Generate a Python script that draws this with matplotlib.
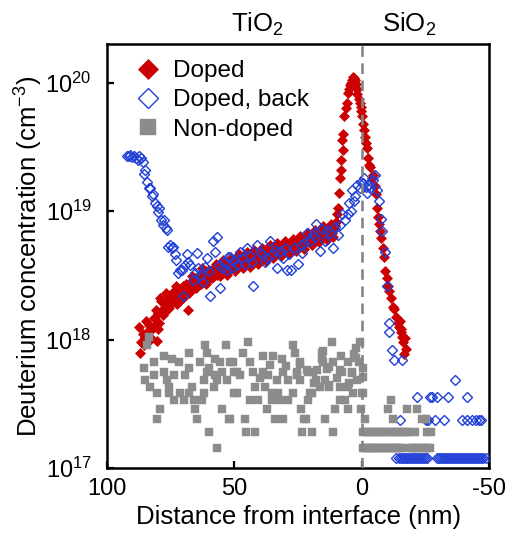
import matplotlib
matplotlib.use("Agg")
import matplotlib.pyplot as plt
import numpy as np

plt.rcParams['font.family'] = ['Liberation Sans', 'DejaVu Sans']
plt.rcParams['mathtext.fontset'] = 'custom'
plt.rcParams['mathtext.rm'] = 'Liberation Sans'
plt.rcParams['mathtext.it'] = 'Liberation Sans:italic'
plt.rcParams['mathtext.default'] = 'regular'

# ---------------- data (y in units of 1e18 for doped, 1e17 for non-doped) ----------------
doped_x = [87.1, 87.5, 86.5, 85.5, 85.0, 84.3, 83.6, 83.0, 82.5, 81.6, 81.0, 80.4, 80.0, 79.6, 79.2,
           78.5, 78.0, 77.3, 76.5, 75.7, 75.0, 74.3, 73.4, 72.6, 72.0, 71.3, 70.7, 70.0, 69.3, 68.3,
           67.5, 66.8, 66.0, 65.3, 64.4, 63.6, 63.0, 62.4, 61.7, 61.0, 60.3, 59.5, 58.9, 58.2, 57.5,
           56.8, 56.0, 55.3, 54.5, 53.8, 53.0, 52.3, 51.5, 50.8, 50.0, 49.3, 48.5, 47.8, 47.0, 46.3,
           45.5, 44.8, 44.0, 43.3, 42.5, 41.8, 41.0, 40.3, 39.5, 38.8, 38.0, 37.3, 36.5, 35.8, 35.0,
           34.3, 33.5, 32.8, 32.0, 31.3, 30.5, 29.8, 29.0, 28.3, 27.5, 26.8, 26.0, 25.3, 24.5, 23.8,
           23.0, 22.3, 21.5, 20.8, 20.0, 19.3, 18.5, 17.8, 17.0, 16.3, 15.5, 14.8, 14.0, 13.3, 12.5,
           11.8, 11.0, 10.5, 10.0, 9.8, 9.5, 9.1, 8.7, 8.3, 8.0, 7.6, 7.4, 7.2, 6.8, 6.4, 6.0, 5.6,
           5.2, 4.8, 4.4, 4.0, 3.6, 3.2, 2.8, 2.4, 2.0, 1.7, 1.3, 0.9, 0.5, 0.2, -0.2, -0.6, -1.0,
           -1.4, -1.8, -2.2, -2.6, -3.0, -3.4, -3.8, -4.2, -5.0, -5.5, -6.1, -6.5, -6.9, -7.3, -7.7,
           -8.2, -8.8, -9.2, -9.7, -10.2, -10.8, -11.5, -12.1, -12.8, -13.5, -14.2, -14.7, -15.0,
           -15.3, -15.5, -15.9, -16.3, -16.7, -17.0, -17.5,
           # second pass through the TiO2 band
           86.0, 84.8, 83.3, 82.0, 80.8, 79.8, 78.8, 77.8, 76.8, 75.5, 74.0, 73.0, 71.8, 70.3, 69.0,
           67.8, 66.5, 65.0, 63.8, 62.7, 61.3, 60.0, 58.6, 57.2, 55.8, 54.3, 52.8, 51.2, 49.7, 48.2,
           46.7, 45.2, 43.7, 42.2, 40.7, 39.2, 37.7, 36.2, 34.7, 33.2, 31.7, 30.2, 28.7, 27.2, 25.7,
           24.2, 22.7, 21.2, 19.7, 18.2, 16.7, 15.2, 13.7, 12.2, 11.4]
doped_y = [0.78, 1.25, 0.95, 0.91, 1.05, 1.15, 1.3, 1.0, 1.2, 1.48, 1.3, 0.98, 1.6, 1.35, 2.1,
           1.7, 1.55, 1.86, 2.0, 2.2, 1.9, 2.3, 2.35, 1.9, 2.5, 2.2, 2.3, 2.6, 2.4, 1.7,
           2.57, 2.8, 2.5, 3.0, 2.9, 3.2, 2.7, 3.3, 3.1, 3.4, 2.9, 3.3, 3.5, 3.1, 3.7,
           3.2, 3.5, 3.8, 3.3, 3.7, 4.0, 3.5, 3.8, 4.1, 3.7, 3.9, 4.2, 3.8, 4.1, 4.4,
           3.9, 4.2, 4.6, 4.1, 4.3, 4.7, 4.2, 4.5, 4.8, 4.3, 4.6, 4.9, 4.5, 4.8, 5.1,
           4.6, 4.9, 5.2, 4.8, 5.1, 5.4, 4.9, 5.2, 5.6, 5.1, 5.4, 5.8, 5.2, 5.6, 6.0,
           5.4, 5.8, 6.3, 5.7, 6.1, 6.6, 6.0, 6.4, 6.9, 6.2, 6.7, 7.2, 6.4, 6.9, 7.4,
           6.8, 7.3, 7.8, 8.2, 9.5, 10.5, 13.8, 18.2, 21.0, 25.0, 35.5, 30.0, 40.0, 55.0, 63.0, 69.0, 83.0,
           90.0, 96.0, 100.0, 105.0, 110.0, 108.0, 104.0, 98.0, 90.0, 81.0, 75.0, 70.0, 65.0, 60.0, 55.0, 48.0, 43.0,
           38.0, 34.0, 31.0, 26.0, 23.0, 22.0, 18.2, 19.0, 15.8, 13.7, 10.5, 9.0, 7.9, 7.0, 6.2,
           5.2, 4.4, 3.4, 3.0, 2.6, 2.4, 2.1, 1.8, 1.72, 1.5, 1.35, 1.26, 1.4,
           1.15, 1.2, 1.05, 0.95, 0.77, 1.02, 0.85,
           1.1, 1.4, 1.05, 1.25, 1.7, 1.2, 2.0, 1.6, 2.3, 1.75, 2.1, 2.6, 2.0, 2.1, 2.7,
           2.3, 3.1, 2.5, 2.8, 3.6, 2.7, 3.5, 3.0, 3.9, 3.1, 4.2, 3.2, 4.3, 3.4, 4.6,
           3.6, 4.8, 3.7, 5.0, 3.9, 5.2, 4.1, 5.4, 4.3, 5.6, 4.5, 5.8, 4.7, 6.1, 4.9,
           6.4, 5.1, 6.7, 5.4, 7.1, 5.7, 7.6, 6.0, 8.0, 6.3]

back_x = [92.3, 91.5, 90.8, 90.0, 89.3, 88.6, 88.0, 87.5, 86.8, 86.0, 85.5, 85.0, 84.3, 83.6, 83.2,
          82.5, 81.8, 81.0, 80.4, 80.0, 79.5, 78.8, 78.2, 77.5, 77.0, 76.5, 76.0, 75.3, 74.5, 74.1,
          73.5, 72.8, 72.0, 71.4, 70.7, 70.2, 69.5, 68.7, 68.3, 67.5, 66.3, 65.5, 64.8, 64.4, 63.5,
          62.4, 61.5, 60.9, 60.0, 59.7, 58.5, 57.7, 56.9, 56.0, 55.8, 55.0, 54.0, 53.0, 52.6, 51.8,
          51.0, 50.0, 49.0, 47.9, 47.0, 46.0, 45.2, 44.0, 43.0, 42.8, 41.3, 40.1, 39.0, 38.0, 37.4,
          36.2, 35.0, 34.0, 33.4, 32.3, 31.0, 30.0, 29.5, 28.5, 27.6, 26.5, 25.2, 24.0, 23.3, 22.5,
          21.7, 20.5, 19.3, 18.5, 17.8, 16.6, 15.5, 14.6, 13.8, 12.5, 11.5, 10.5, 9.5, 8.7, 7.6,
          6.5, 5.5, 4.9, 4.2, 3.7, 3.0, 2.5, 1.7, 0.8, 0.2, -0.5, -1.0, -1.5, -2.2, -2.8, -3.3,
          -4.2, -5.0, -6.1, -6.9, -7.7, -8.1, -8.9, -9.7, -10.5, -10.8, -12.0, -12.8, -15.9,
          -13.6, -14.4, -15.2, -16.0, -16.8, -17.6, -18.4, -19.2, -20.0, -20.8, -21.6, -22.4, -23.2,
          -24.0, -24.8, -25.6, -29.3, -30.1, -30.9, -31.7, -32.5, -33.3, -34.1, -34.9, -35.7, -36.5,
          -37.3, -38.1, -38.9, -39.7, -40.5, -41.3, -42.1, -42.9, -43.7, -44.5, -45.3, -46.1, -46.9,
          -47.7, -48.8,
          -14.8, -25.3, -25.8, -28.8, -32.4, -39.4, -41.4, -43.3, -44.9, -46.0, -46.9,
          -21.8, -26.9, -27.7, -29.6, -33.9, -41.4, -36.7]
back_y = [27.0, 27.0, 27.5, 26.5, 27.0, 26.0, 25.0, 27.0, 26.0, 24.0, 19.5, 21.0, 17.0, 15.0, 15.1,
          13.0, 13.5, 11.5, 11.0, 9.8, 10.5, 8.5, 7.8, 8.5, 7.4, 7.1, 5.3, 5.4, 5.2, 5.25,
          4.6, 4.2, 3.3, 3.5, 3.5, 2.2, 3.8, 4.6, 4.0, 3.8, 2.9, 3.3, 4.7, 3.6, 3.2,
          2.8, 3.7, 4.3, 3.4, 2.2, 5.9, 4.8, 6.3, 3.8, 2.5, 3.6, 4.0, 3.5, 4.4, 4.4,
          3.6, 4.2, 3.8, 4.8, 4.3, 3.9, 5.2, 4.5, 4.0, 2.6, 5.4, 4.8, 4.6, 4.0, 4.3,
          5.9, 4.6, 5.0, 3.6, 4.9, 4.3, 5.2, 3.5, 4.6, 3.5, 5.2, 3.9, 5.4, 4.7, 5.6,
          6.8, 5.8, 6.6, 6.3, 7.9, 4.9, 7.2, 5.9, 7.1, 6.8, 5.2, 7.5, 6.5, 7.8, 9.5,
          8.5, 9.5, 11.5, 10.0, 14.5, 12.0, 13.0, 16.0, 15.0, 16.8, 16.5, 18.0, 15.5, 13.8, 16.0, 15.0,
          17.5, 19.0, 14.5, 12.0, 8.7, 7.0, 4.8, 2.6, 1.14, 1.34, 0.83, 0.69, 0.69,
          0.12, 0.12, 0.12, 0.12, 0.12, 0.12, 0.12, 0.12, 0.12, 0.12, 0.12, 0.12, 0.12,
          0.12, 0.12, 0.12, 0.12, 0.12, 0.12, 0.12, 0.12, 0.12, 0.12, 0.12, 0.12, 0.12,
          0.12, 0.12, 0.12, 0.12, 0.12, 0.12, 0.12, 0.12, 0.12, 0.12, 0.12, 0.12, 0.12,
          0.12, 0.12,
          0.235, 0.235, 0.235, 0.235, 0.235, 0.235, 0.235, 0.235, 0.235, 0.235, 0.235,
          0.355, 0.355, 0.355, 0.355, 0.355, 0.355, 0.48]

nondoped_x = [83.5, 84.3, 61.6, 53.4, 67.9, 60.8, 77.7, 74.5, 81.6, 71.8, 63.6, 57.7, 55.8, 51.8,
              85.5, 67.9, 60.1, 77.7, 60.8, 55.0, 50.3, 81.6, 73.8, 69.5, 57.7, 85.1, 76.5, 62.0,
              56.9, 53.0, 83.2, 75.7, 66.7, 58.1, 80.4, 75.7, 71.4, 67.9, 62.0, 50.3, 73.8, 69.8,
              65.9, 62.8, 79.2, 65.5, 55.0, 80.4, 64.7, 52.2, 60.1, 57.0,
              44.8, 27.2, 11.9, 46.7, 38.9, 35.0, 31.5, 26.4, 15.8, 8.0, 2.9, 50.7, 44.0, 36.2,
              24.4, 15.4, 11.5, 5.6, 49.1, 42.8, 38.9, 31.1, 25.6, 21.3, 19.3, 13.8, 7.6, 3.7,
              47.9, 33.4, 29.1, 24.4, 17.8, 14.6, 1.7, 42.1, 38.1, 16.6, 12.7, 8.7, 5.6, 49.1,
              35.4, 33.0, 27.2, 19.7, 3.3, 44.0, 40.9, 35.4, 32.3, 29.1, 21.3, 8.7, 37.4, 23.7,
              10.7, 5.6, 51.8, 46.0, 34.2, 31.1, 22.1, 14.6, 45.6, 42.1, 23.3, 19.7, 11.5,
              2.1, 15.4, 15.8, 24.4, 2.1, 12.7, 21.7, 17.4, 8.7, 3.7, 25.6, 12.7, 20.5, 22.5,
              4.9, 0.1, 0.6, 1.0, 29.8, 40.0, 36.8, 18.6, 9.8, 6.6,
              -0.3, -0.5, -0.4,
              -0.5, -1.3, -2.1, -2.9, -3.7, -4.5, -5.3, -6.1, -6.9, -7.7, -8.5, -9.3, -10.1,
              -10.9, -11.7, -12.5, -13.3, -14.1, -14.9, -15.7, -18.9, -19.7, -20.5, -21.3,
              -22.1, -23.5, -24.3, -25.1, -25.9, -26.6,
              -0.5, -1.5, -2.5, -3.5, -4.5, -5.5, -7.0, -8.0, -9.0, -10.0, -11.5, -12.5, -13.5,
              -14.5, -15.5, -16.5, -17.5, -18.5, -21.0, -25.5, -27.2,
              -1.1, -12.1, -23.8, -25.3, 0.2, -10.4, -17.9, -21.8, -11.3]
nondoped_y = [10.5, 9.1, 9.1, 9.1, 7.9, 7.9, 7.5, 7.1, 6.7, 6.7, 6.7, 7.1, 6.7, 6.7,
              6.0, 6.0, 6.0, 5.6, 5.6, 5.6, 5.6, 5.3, 5.3, 5.3, 5.3, 4.8, 4.8, 4.8,
              4.8, 4.8, 4.3, 4.3, 4.3, 4.3, 3.84, 3.84, 3.84, 3.84, 3.84, 3.84, 3.36, 3.36,
              3.36, 3.36, 2.88, 2.88, 2.88, 2.4, 2.4, 2.4, 1.92, 1.44,
              9.6, 9.1, 9.6, 7.9, 7.5, 7.5, 7.1, 7.9, 7.9, 7.5, 7.7, 6.7, 6.7, 6.3,
              6.7, 6.7, 6.7, 6.7, 5.6, 5.6, 5.6, 5.6, 5.6, 5.6, 5.6, 5.9, 5.6, 5.6,
              5.3, 4.8, 4.8, 4.8, 4.8, 4.8, 4.8, 4.3, 4.3, 4.3, 4.3, 4.3, 4.3, 3.84,
              3.84, 3.84, 3.84, 3.84, 3.84, 3.36, 3.36, 3.36, 3.36, 3.36, 3.36, 3.36, 2.88, 2.88,
              2.88, 2.88, 2.4, 2.4, 2.4, 2.4, 2.4, 2.4, 1.92, 1.92, 1.92, 1.92, 1.92,
              8.6, 8.2, 7.1, 6.5, 7.2, 6.1, 5.8, 5.8, 5.8, 5.5, 5.3, 4.4, 3.84, 2.4,
              4.6, 3.84, 9.6, 6.7, 6.2, 5.0, 5.3, 4.6, 5.0, 3.4,
              6.0, 5.1, 3.84,
              1.44, 1.44, 1.44, 1.44, 1.44, 1.44, 1.44, 1.44, 1.44, 1.44, 1.44, 1.44, 1.44,
              1.44, 1.44, 1.44, 1.44, 1.44, 1.44, 1.44, 1.44, 1.44, 1.44, 1.44,
              1.44, 1.44, 1.44, 1.44, 1.44, 1.44,
              1.92, 1.92, 1.92, 1.92, 1.92, 1.92, 1.92, 1.92, 1.92, 1.92, 1.92, 1.92, 1.92,
              1.92, 1.92, 1.92, 1.92, 1.92, 1.92, 1.92, 1.92,
              2.4, 2.4, 2.4, 2.4, 2.88, 2.88, 2.88, 2.88, 3.36]

labels = ["Doped", "Doped, back", "Non-doped"]
x_ticks = [100, 50, 0, -50]
y_ticks = [1e17, 1e18, 1e19, 1e20]

RED = '#cc0000'
BLUE = '#1f3fd6'
GRAY = '#8c8c8c'

fig = plt.figure(figsize=(5.07, 5.34), dpi=100)
ax = fig.add_axes([0.211, 0.1236, 0.754, 0.794])

ax.plot(doped_x, np.array(doped_y) * 1e18, ls='none', marker='D', ms=5.2,
        mfc=RED, mec=RED, mew=0.5, label=labels[0], zorder=3)
ax.plot(back_x, np.array(back_y) * 1e18, ls='none', marker='D', ms=5.2,
        mfc='none', mec=BLUE, mew=1.0, label=labels[1], zorder=4)
ax.plot(nondoped_x, np.array(nondoped_y) * 1e17, ls='none', marker='s', ms=5.6,
        mfc=GRAY, mec=GRAY, mew=0.3, label=labels[2], zorder=5)

ax.axvline(0, color='#858585', ls=(0, (4, 2.5)), lw=1.9, zorder=6)

ax.set_yscale('log')
ax.set_xlim(100, -50)
ax.set_ylim(1e17, 2e20)
ax.set_xticks(x_ticks)
ax.set_xticklabels([str(t) for t in x_ticks])
ax.set_yticks(y_ticks)
ax.yaxis.set_minor_locator(matplotlib.ticker.NullLocator())

for s in ax.spines.values():
    s.set_linewidth(1.8)
ax.tick_params(axis='both', which='major', direction='in', length=5, width=1.6,
               labelsize=17)
ax.tick_params(axis='y', pad=11)
ax.tick_params(axis='x', pad=7)

ax.set_xlabel('Distance from interface (nm)', fontsize=18.5, labelpad=4)
ax.set_ylabel('Deuterium concentration (cm$^{-3}$)', fontsize=18.5, labelpad=0)

ax.annotate('TiO$_2$', xy=(41, 1.0), xycoords=('data', 'axes fraction'),
            xytext=(0, 12), textcoords='offset pixels', ha='center', va='baseline',
            fontsize=18.5)
ax.annotate('SiO$_2$', xy=(-18.7, 1.0), xycoords=('data', 'axes fraction'),
            xytext=(0, 12), textcoords='offset pixels', ha='center', va='baseline',
            fontsize=18.5)

leg = ax.legend(loc='upper left', frameon=False, fontsize=17.5, markerscale=2.0,
                handlelength=1.0, handletextpad=0.55, labelspacing=0.3,
                borderaxespad=0.0, bbox_to_anchor=(0.05, 0.985))

fig.savefig('out.png', dpi=100)
